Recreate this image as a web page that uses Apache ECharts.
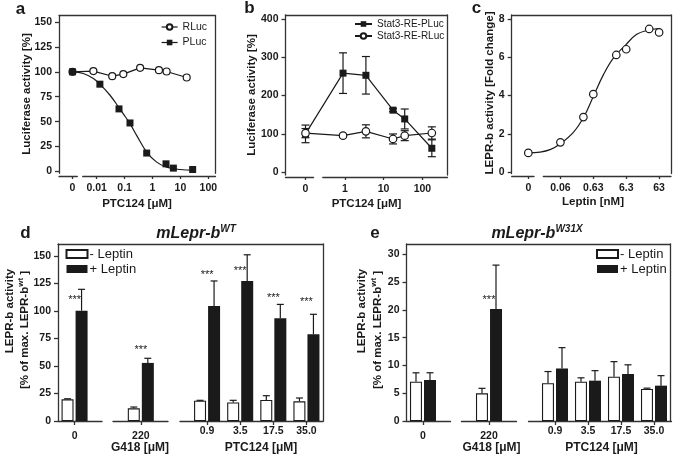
<!DOCTYPE html>
<html><head><meta charset="utf-8">
<script src="https://cdn.jsdelivr.net/npm/echarts@6/dist/echarts.min.js"></script>
<style>html,body{margin:0;padding:0;background:#fff}#c{width:675px;height:460px}</style>
</head><body><div id="c"></div>
<script>
// ---------------- data ----------------
// panel a
const aRLucX = [0, 0.0076, 0.036, 0.09, 0.36, 1.7, 3.2, 16.8];
const aRLucY = [100, 100.7, 95.6, 97.7, 104, 101.7, 100.3, 94.3];
const aPLucX = [0, 0.013, 0.063, 0.156, 0.62, 3.05, 5.6, 27.5];
const aPLucY = [100, 87.6, 62.8, 48.7, 18.5, 7.7, 3.4, 2.0];
const aFitX = [0, 0.0033, 0.0076, 0.013, 0.030, 0.063, 0.103, 0.156, 0.27, 0.62, 1.41, 3.2, 9.7, 29];
const aFitY = [100, 98.3, 93.3, 87.6, 76.5, 64, 55.4, 48, 36.2, 19.5, 9.4, 4.4, 2.0, 1.3];
const aXTicks = [0.01, 0.1, 1, 10, 100];
const aXTickLabels = ['0.01', '0.1', '1', '10', '100'];
const aYTicks = [0, 25, 50, 75, 100, 125, 150];
// panel b
const bX = [0, 0.9, 3.5, 17.5, 35, 175];
const bPLuc = [100, 258.6, 253, 162, 139, 62.5];
const bPLucErr = [23, 53, 49, 4, 26, 22];
const bRLuc = [102, 95.4, 106.7, 86.8, 95.4, 102.4];
const bRLucErr = [12, 4, 17, 13, 13, 16];
const bXTicks = [1, 10, 100];
const bXTickLabels = ['1', '10', '100'];
const bYTicks = [0, 100, 200, 300, 400];
// panel c
const cX = [0, 0.063, 0.315, 0.63, 3.15, 6.3, 31.5, 63];
const cY = [1.0, 1.55, 2.87, 4.07, 6.12, 6.42, 7.48, 7.3];
const cFitX = [0, 0.0151, 0.0305, 0.063, 0.156, 0.33, 0.63, 1.27, 2.56, 6.1, 13.2, 29.5, 59.6];
const cFitY = [1.0, 1.04, 1.17, 1.48, 2.07, 2.9, 3.95, 5.08, 5.96, 6.65, 7.2, 7.42, 7.5];
const cXTicks = [0.063, 0.63, 6.3, 63];
const cXTickLabels = ['0.06', '0.63', '6.3', '63'];
const cYTicks = [0, 2, 4, 6, 8];
// panel d
const dCats = ['0', '220', '0.9', '3.5', '17.5', '35.0'];
const dMinus = [19.7, 11.5, 18.5, 16.8, 19.1, 17.9];
const dMinusErr = [0.5, 1.2, 0.3, 2.0, 3.9, 3.0];
const dPlus = [100.3, 52.8, 104.5, 127.2, 93.3, 78.8];
const dPlusErr = [19.4, 4.2, 22.8, 23.9, 12.7, 18.2];
const dStars = [111.8, 66.6, 134.8, 137.9, 113.6, 110];
const dYTicks = [0, 25, 50, 75, 100, 125, 150];
// panel e
const eCats = ['0', '220', '0.9', '3.5', '17.5', '35.0'];
const eMinus = [7.07, 4.98, 6.8, 7.07, 7.98, 5.76];
const eMinusErr = [1.6, 0.9, 2.1, 0.7, 2.7, 0.15];
const ePlus = [7.38, 20.15, 9.45, 7.26, 8.46, 6.36];
const ePlusErr = [1.3, 7.9, 3.75, 1.8, 1.65, 1.8];
const eStars = [null, 22.1, null, null, null, null];
const eYTicks = [0, 5, 10, 15, 20, 25, 30];

// ---------------- layout / style ----------------
const FF = '"Liberation Sans", Arial, Helvetica, sans-serif';
const INK = '#1a1a1a';
const AXC = '#333';
const AXW = 1.3;
const N_SLOTS = 8;
const SLOTS = [0, 2, 4, 5, 6, 7];

const option = {animation: false, backgroundColor: '#fff', grid: [], xAxis: [], yAxis: [], series: [], legend: [], graphic: {elements: []}};

function addGrid(l, r, t, b) {
  option.grid.push({left: l, top: t, width: r - l, height: b - t, containLabel: false});
  return option.grid.length - 1;
}
const tickLab = {fontFamily: FF, fontWeight: 'bold', fontSize: 10.5, color: INK};
const axLine = {show: true, onZero: false, lineStyle: {color: AXC, width: AXW}};
function lineAxis(extra) {
  return Object.assign({axisLine: axLine, axisTick: {show: false}, axisLabel: {show: false}, splitLine: {show: false}}, extra);
}
function leftY(g, min, max, ticks) {
  option.yAxis.push({gridIndex: g, type: 'value', min, max, axisLine: axLine,
    axisTick: {show: true, length: 4, customValues: ticks, lineStyle: {color: AXC, width: AXW}},
    axisLabel: Object.assign({customValues: ticks, margin: 7}, tickLab), splitLine: {show: false}});
  const yi = option.yAxis.length - 1;
  option.yAxis.push(lineAxis({gridIndex: g, type: 'value', position: 'right', min, max}));
  return yi;
}

function logPanel(c) {
  const toT = px => c.anchorT + (px - c.anchorPx) / c.decadePx;
  const zeroT = toT(c.zeroPx);
  const tf = x => x === 0 ? zeroT : Math.log10(x);
  const g = addGrid(c.L, c.R, c.top, c.bottom);
  option.xAxis.push(lineAxis({gridIndex: g, type: 'value', position: 'top', min: toT(c.L), max: toT(c.R)}));
  const xi = option.xAxis.length - 1;
  const yi = leftY(g, c.yMin, c.yMax, c.yTicks);
  const segs = [[c.L, c.gapA, [zeroT], ['0']], [c.gapB, c.R, c.xTicks.map(tf), c.xTickLabels]];
  segs.forEach(([l, r, tv, tl]) => {
    const sg = addGrid(l, r, c.axisY - 1, c.axisY);
    option.xAxis.push({gridIndex: sg, type: 'value', position: 'bottom', min: toT(l), max: toT(r),
      axisLine: axLine,
      axisTick: {show: true, length: 3, customValues: tv, lineStyle: {color: AXC, width: AXW}},
      axisLabel: Object.assign({customValues: tv, margin: 7, formatter: v => {
        const i = tv.findIndex(t => Math.abs(t - v) < 1e-6); return i >= 0 ? tl[i] : ''; }}, tickLab),
      splitLine: {show: false}});
    option.yAxis.push({gridIndex: sg, type: 'value', show: false, min: 0, max: 1});
  });
  return {xi, yi, tf};
}

function barPanel(c) {
  const axisCats = new Array(N_SLOTS).fill('');
  c.cats.forEach((v, i) => axisCats[SLOTS[i]] = v);
  const g = addGrid(c.L, c.R, c.top, c.zeroY);
  const low = c.cats.slice(0, 2);
  option.xAxis.push({gridIndex: g, type: 'category', data: axisCats, position: 'bottom',
    axisLine: {show: false},
    axisTick: {show: true, alignWithLabel: true, length: 4, interval: (i, v) => v !== '', lineStyle: {color: AXC, width: AXW}},
    axisLabel: Object.assign({interval: 0, margin: 5,
      formatter: v => low.includes(v) ? '{lo|' + v + '}' : v,
      rich: {lo: Object.assign({padding: [5, 0, 0, 0]}, tickLab)}}, tickLab),
    splitLine: {show: false}});
  const xi = option.xAxis.length - 1;
  option.xAxis.push(lineAxis({gridIndex: g, type: 'value', position: 'top', min: 0, max: 1}));
  const yi = leftY(g, 0, c.yMax, c.yTicks);
  c.segs.forEach(([a, b]) => {
    const sg = addGrid(c.L + a, c.L + b, c.zeroY - 1, c.zeroY);
    option.xAxis.push(lineAxis({gridIndex: sg, type: 'value', position: 'bottom', min: 0, max: 1}));
    option.yAxis.push({gridIndex: sg, type: 'value', show: false, min: 0, max: 1});
  });
  const spread = arr => { const out = new Array(N_SLOTS).fill(null); arr.forEach((v, i) => out[SLOTS[i]] = v); return out; };
  return {xi, yi, spread};
}

function errBars(P, xs, ys, es, cap) {
  return {type: 'custom', xAxisIndex: P.xi, yAxisIndex: P.yi, silent: true, z: 1,
    data: xs.map((x, i) => [P.tf(x), ys[i], es[i]]),
    renderItem: (params, api) => {
      const t = api.value(0), y = api.value(1), e = api.value(2);
      const lo = api.coord([t, y - e]), hi = api.coord([t, y + e]);
      const st = {stroke: INK, lineWidth: 1.2};
      return {type: 'group', children: [
        {type: 'line', shape: {x1: lo[0], y1: lo[1], x2: hi[0], y2: hi[1]}, style: st},
        {type: 'line', shape: {x1: lo[0] - cap / 2, y1: lo[1], x2: lo[0] + cap / 2, y2: lo[1]}, style: st},
        {type: 'line', shape: {x1: hi[0] - cap / 2, y1: hi[1], x2: hi[0] + cap / 2, y2: hi[1]}, style: st}]};
    }};
}
function barErr(P, vals, errs, dx) {
  const v = P.spread(vals), e = P.spread(errs);
  return {type: 'custom', xAxisIndex: P.xi, yAxisIndex: P.yi, silent: true, z: 3,
    data: v.map((y, i) => y == null ? null : [i, y, e[i]]).filter(Boolean),
    renderItem: (params, api) => {
      const i = api.value(0), y = api.value(1), er = api.value(2);
      const p0 = api.coord([i, y]), p1 = api.coord([i, y + er]);
      const x = p0[0] + dx;
      const st = {stroke: INK, lineWidth: 1.2};
      return {type: 'group', children: [
        {type: 'line', shape: {x1: x, y1: p0[1], x2: x, y2: p1[1]}, style: st},
        {type: 'line', shape: {x1: x - 3.5, y1: p1[1], x2: x + 3.5, y2: p1[1]}, style: st}]};
    }};
}
function stars(P, vals) {
  const v = P.spread(vals);
  return {type: 'custom', xAxisIndex: P.xi, yAxisIndex: P.yi, silent: true, z: 4,
    data: v.map((y, i) => y == null ? null : [i, y]).filter(Boolean),
    renderItem: (params, api) => {
      const p = api.coord([api.value(0), api.value(1)]);
      return {type: 'text', x: p[0], y: p[1] + 2, style: {text: '***', fontFamily: FF, fontSize: 11, fill: INK, align: 'center', verticalAlign: 'middle'}};
    }};
}
function txt(x, y, text, o) {
  o = o || {};
  const st = {text, fill: INK, align: 'center', verticalAlign: 'middle', fontFamily: FF,
    fontSize: o.size || 11.5, fontWeight: o.weight || 'bold', fontStyle: o.italic ? 'italic' : 'normal'};
  if (o.rich) st.rich = o.rich;
  option.graphic.elements.push({type: 'text', x, y, rotation: o.rot || 0, silent: true, style: st});
}
const supRich = (size, italic, pad) => ({fontFamily: FF, fontSize: size, fontWeight: 'bold', fontStyle: italic ? 'italic' : 'normal', padding: [0, 0, pad, 0], fill: INK, color: INK});

// ---------------- panel a ----------------
const A = logPanel({L: 59, R: 215.5, top: 15.7, bottom: 173.3, axisY: 176, anchorPx: 152.5, anchorT: 0, decadePx: 27.9,
  zeroPx: 72.5, gapA: 77.3, gapB: 82.7, yMin: -1.8, yMax: 156.3, yTicks: aYTicks, xTicks: aXTicks, xTickLabels: aXTickLabels});
option.series.push({name: 'RLuc', type: 'line', xAxisIndex: A.xi, yAxisIndex: A.yi, z: 3,
  data: aRLucX.map((x, i) => [A.tf(x), aRLucY[i]]), symbol: 'circle', symbolSize: 7,
  itemStyle: {color: '#fff', borderColor: INK, borderWidth: 1.2}, lineStyle: {color: INK, width: 1.2}});
option.series.push({name: 'PLuc fit', type: 'line', xAxisIndex: A.xi, yAxisIndex: A.yi, z: 2, silent: true,
  data: aFitX.map((x, i) => [A.tf(x), aFitY[i]]), smooth: 0.4, symbol: 'none', lineStyle: {color: INK, width: 1.2}});
option.series.push({name: 'PLuc', type: 'line', xAxisIndex: A.xi, yAxisIndex: A.yi, z: 4,
  data: aPLucX.map((x, i) => [A.tf(x), aPLucY[i]]), symbol: 'rect', symbolSize: 7,
  itemStyle: {color: INK}, lineStyle: {width: 0, opacity: 0}});
option.legend.push({data: ['RLuc', 'PLuc'], orient: 'vertical', left: 161, top: 21.5, padding: 0, itemWidth: 16, itemHeight: 7, itemGap: 4.5,
  selectedMode: false, textStyle: {fontFamily: FF, fontSize: 10.5, color: INK}, lineStyle: {color: INK, width: 1.2, opacity: 1}});

// ---------------- panel b ----------------
const B = logPanel({L: 285.5, R: 447.5, top: 15, bottom: 175, axisY: 177, anchorPx: 344.8, anchorT: 0, decadePx: 38.8,
  zeroPx: 305.5, gapA: 313.5, gapB: 322.8, yMin: -7.3, yMax: 410.4, yTicks: bYTicks, xTicks: bXTicks, xTickLabels: bXTickLabels});
option.series.push(errBars(B, bX, bPLuc, bPLucErr, 8));
option.series.push(errBars(B, bX, bRLuc, bRLucErr, 8));
option.series.push({name: 'Stat3-RE-PLuc', type: 'line', xAxisIndex: B.xi, yAxisIndex: B.yi, z: 3,
  data: bX.map((x, i) => [B.tf(x), bPLuc[i]]), symbol: 'rect', symbolSize: 7,
  itemStyle: {color: INK}, lineStyle: {color: INK, width: 1.2}});
option.series.push({name: 'Stat3-RE-RLuc', type: 'line', xAxisIndex: B.xi, yAxisIndex: B.yi, z: 4,
  data: bX.map((x, i) => [B.tf(x), bRLuc[i]]), symbol: 'circle', symbolSize: 7.5,
  itemStyle: {color: '#fff', borderColor: INK, borderWidth: 1.2}, lineStyle: {color: INK, width: 1.2}});
option.legend.push({data: ['Stat3-RE-PLuc', 'Stat3-RE-RLuc'], orient: 'vertical', left: 354, top: 19, padding: 0, itemWidth: 17, itemHeight: 7, itemGap: 2,
  selectedMode: false, textStyle: {fontFamily: FF, fontSize: 10, color: INK}});

// ---------------- panel c ----------------
const C = logPanel({L: 511.7, R: 671, top: 15, bottom: 173.5, axisY: 176, anchorPx: 593.3, anchorT: Math.log10(0.63), decadePx: 32.9,
  zeroPx: 528.3, gapA: 534, gapB: 543.3, yMin: -0.078, yMax: 8.21, yTicks: cYTicks, xTicks: cXTicks, xTickLabels: cXTickLabels});
option.series.push({name: 'c fit', type: 'line', xAxisIndex: C.xi, yAxisIndex: C.yi, z: 2, silent: true,
  data: cFitX.map((x, i) => [C.tf(x), cFitY[i]]), smooth: 0.4, symbol: 'none', lineStyle: {color: INK, width: 1.2}});
option.series.push({name: 'LEPR-b', type: 'scatter', xAxisIndex: C.xi, yAxisIndex: C.yi, z: 3,
  data: cX.map((x, i) => [C.tf(x), cY[i]]), symbol: 'circle', symbolSize: 7.5,
  itemStyle: {color: '#fff', borderColor: INK, borderWidth: 1.2, opacity: 1}});

// ---------------- panel d ----------------
const SEGS = [[0, 44], [55, 110], [122, 265]];
const D = barPanel({L: 58, R: 323, top: 244, zeroY: 421, yMax: 160.9, yTicks: dYTicks, cats: dCats, segs: SEGS});
option.series.push({name: '- Leptin', type: 'bar', xAxisIndex: D.xi, yAxisIndex: D.yi, data: D.spread(dMinus), barWidth: 12, barGap: '17%',
  itemStyle: {color: '#fff', borderColor: INK, borderWidth: 1.1}, z: 2});
option.series.push({name: '+ Leptin', type: 'bar', xAxisIndex: D.xi, yAxisIndex: D.yi, data: D.spread(dPlus), barWidth: 12, barGap: '17%',
  itemStyle: {color: INK}, z: 2});
option.series.push(barErr(D, dMinus, dMinusErr, -7));
option.series.push(barErr(D, dPlus, dPlusErr, 7));
option.series.push(stars(D, dStars));
option.legend.push({data: ['- Leptin', '+ Leptin'], orient: 'vertical', left: 65.5, top: 247.5, padding: 0, itemWidth: 21, itemHeight: 8, itemGap: 2, icon: 'rect',
  selectedMode: false, textStyle: {fontFamily: FF, fontSize: 13, color: INK, padding: [0, 0, 0, -3]}});

// ---------------- panel e ----------------
const E = barPanel({L: 406.5, R: 670.5, top: 244, zeroY: 421, yMax: 31.85, yTicks: eYTicks, cats: eCats, segs: SEGS});
option.series.push({name: '- Leptin', type: 'bar', xAxisIndex: E.xi, yAxisIndex: E.yi, data: E.spread(eMinus), barWidth: 12, barGap: '17%',
  itemStyle: {color: '#fff', borderColor: INK, borderWidth: 1.1}, z: 2});
option.series.push({name: '+ Leptin', type: 'bar', xAxisIndex: E.xi, yAxisIndex: E.yi, data: E.spread(ePlus), barWidth: 12, barGap: '17%',
  itemStyle: {color: INK}, z: 2});
option.series.push(barErr(E, eMinus, eMinusErr, -7));
option.series.push(barErr(E, ePlus, ePlusErr, 7));
option.series.push(stars(E, eStars));
option.legend.push({data: ['- Leptin', '+ Leptin'], orient: 'vertical', left: 596, top: 247.5, padding: 0, itemWidth: 21, itemHeight: 8, itemGap: 2, icon: 'rect',
  selectedMode: false, textStyle: {fontFamily: FF, fontSize: 13, color: INK, padding: [0, 0, 0, -3]}});

// ---------------- texts ----------------
const R90 = Math.PI / 2;
txt(20.5, 9, 'a', {size: 17});
txt(249.5, 8, 'b', {size: 17});
txt(476.5, 8.5, 'c', {size: 17});
txt(25.5, 233.5, 'd', {size: 17});
txt(375, 233.5, 'e', {size: 17});
txt(26.7, 94, 'Luciferase activity [%]', {rot: R90});
txt(251.5, 95, 'Luciferase activity [%]', {rot: R90});
txt(490, 93, 'LEPR-b activity [Fold change]', {rot: R90});
txt(137, 204, 'PTC124 [μM]');
txt(366.5, 204, 'PTC124 [μM]');
txt(593, 202, 'Leptin [nM]');
const sup = {sup: supRich(8, false, 8)};
txt(9.5, 311, 'LEPR-b activity', {rot: R90});
txt(25, 330, '[% of max. LEPR-b{sup|wt} ]', {rot: R90, rich: sup});
txt(361.5, 311, 'LEPR-b activity', {rot: R90});
txt(378, 330, '[% of max. LEPR-b{sup|wt} ]', {rot: R90, rich: sup});
const titleRich = {m: supRich(16, true, 0), s: supRich(10, true, 10)};
txt(196, 234, '{m|mLepr-b}{s|WT}', {rich: titleRich, italic: true, size: 16});
txt(537, 234, '{m|mLepr-b}{s|W31X}', {rich: titleRich, italic: true, size: 16});
txt(140, 447.5, 'G418 [μM]', {size: 12});
txt(261, 447.5, 'PTC124 [μM]', {size: 12});
txt(491.5, 447.5, 'G418 [μM]', {size: 12});
txt(601.5, 447.5, 'PTC124 [μM]', {size: 12});

const chart = echarts.init(document.getElementById('c'), null, {renderer: 'canvas'});
chart.setOption(option);
</script></body></html>
